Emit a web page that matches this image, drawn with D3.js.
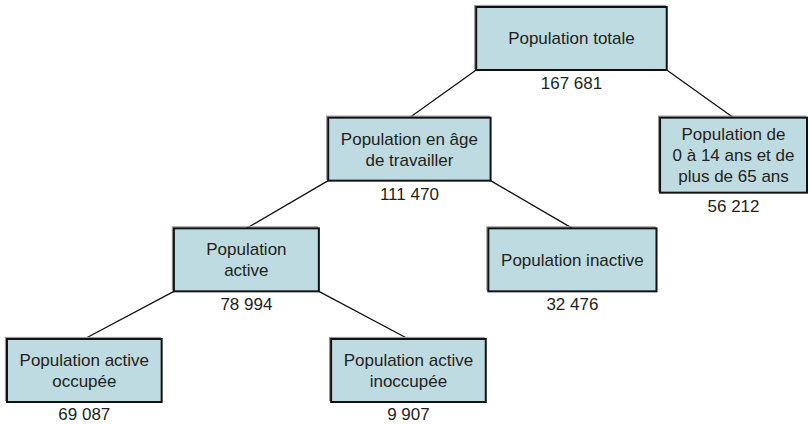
<!DOCTYPE html>
<html><head><meta charset="utf-8">
<script src="https://cdn.jsdelivr.net/npm/d3@7"></script>
<style>body{margin:0;background:#fff}svg{display:block}</style>
</head><body>
<svg id="c" width="809" height="425"></svg>
<script>
// ---- data ----
const nodeIds   = ["totale","age_travail","jeunes_vieux","active","inactive","occupee","inoccupee"];
const parentIds = [null,"totale","totale","age_travail","age_travail","active","active"];
const nodeLabels = [
  ["Population totale"],
  ["Population en âge","de travailler"],
  ["Population de","0 à 14 ans et de","plus de 65 ans"],
  ["Population","active"],
  ["Population inactive"],
  ["Population active","occupée"],
  ["Population active","inoccupée"]
];
const nodeValues = [167681, 111470, 56212, 78994, 32476, 69087, 9907];

// ---- style ----
const FONT = "'Liberation Sans', Arial, sans-serif";
const FS = 17, LINE_H = 21;
const FILL = "#bedbe1", TEXT = "#231f20";

const fr = d3.formatLocale({decimal: ",", thousands: " ", grouping: [3], currency: ["", " €"]});
const fmt = fr.format(",d");

const rows = nodeIds.map((id, i) => ({id, parent: parentIds[i], lines: nodeLabels[i], value: nodeValues[i]}));
const root = d3.stratify().id(d => d.id).parentId(d => d.parent)(rows);

const svg = d3.select("#c");
const meas = svg.append("text").attr("font-family", FONT).attr("font-size", FS);
root.each(n => {
  let w = 0;
  n.data.lines.forEach(l => { meas.text(l); w = Math.max(w, meas.node().getComputedTextLength()); });
  const padX = n.depth === 0 ? 30 : 11;
  n.bw = Math.max(w + 2 * padX, 142);
  n.bh = Math.max(n.data.lines.length * LINE_H + 12, 63);
});
meas.remove();

const GAP = 166;
d3.tree().nodeSize([1, 1]).separation((a, b) => (a.bw + b.bw) / 2 + GAP)(root);

const nodes = root.descendants();
const minL = d3.min(nodes, n => n.x - n.bw / 2);
const maxR = d3.max(nodes, n => n.x + n.bw / 2);
const x = d3.scaleLinear().domain([minL, maxR]).range([7, 807]);
const k = (x(maxR) - x(minL)) / (maxR - minL);
const yTop = d3.scaleLinear().domain([0, root.height]).range([7, 339]);

nodes.forEach(n => {
  n.cx = x(n.x); n.w = n.bw * k; n.top = yTop(n.depth);
  n.left = n.cx - n.w / 2; n.right = n.cx + n.w / 2; n.bottom = n.top + n.bh;
});

// links
svg.append("g").selectAll("line").data(root.links()).join("line")
  .attr("x1", d => d.target.cx < d.source.cx ? d.source.left : d.source.right)
  .attr("y1", d => d.source.bottom)
  .attr("x2", d => d.target.cx)
  .attr("y2", d => d.target.top)
  .attr("stroke", "#111").attr("stroke-width", 1.3);

const g = svg.append("g").selectAll("g").data(nodes).join("g");
g.append("rect")
  .attr("x", d => d.left - 1.5).attr("y", d => d.top - 1.5)
  .attr("width", d => d.w).attr("height", d => d.bh)
  .attr("fill", "none").attr("stroke", "#9a9a9a").attr("stroke-width", 1.2);
g.append("rect")
  .attr("x", d => d.left).attr("y", d => d.top)
  .attr("width", d => d.w).attr("height", d => d.bh)
  .attr("fill", FILL).attr("stroke", "#111").attr("stroke-width", 2);

g.each(function(d) {
  const n = d.data.lines.length;
  const cy = d.top + d.bh / 2;
  d3.select(this).append("text")
    .attr("font-family", FONT).attr("font-size", FS).attr("fill", TEXT)
    .attr("text-anchor", "middle")
    .selectAll("tspan").data(d.data.lines).join("tspan")
    .attr("x", d.cx)
    .attr("y", (l, i) => cy + (i - (n - 1) / 2) * LINE_H + FS * 0.35)
    .text(l => l);
});

g.append("text")
  .attr("font-family", FONT).attr("font-size", FS).attr("fill", TEXT)
  .attr("text-anchor", "middle")
  .attr("x", d => d.cx).attr("y", d => Math.min(d.bottom + 19, 420))
  .text(d => fmt(d.data.value));
</script></body></html>
